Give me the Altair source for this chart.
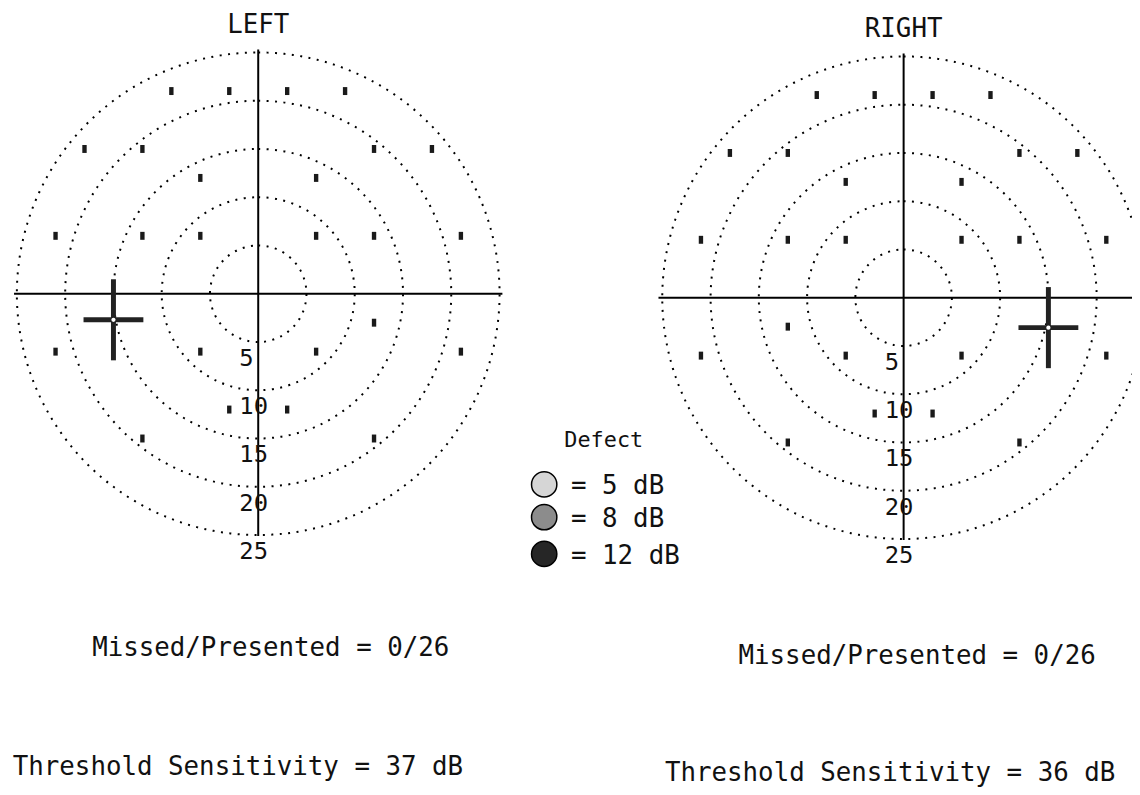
import math
import altair as alt
import pandas as pd

# ---------------- data (degrees of visual field) ----------------
left_px = [-9, -3, 3, 9, -18, -12, 12, 18, -6, 6, -21, -12, -6, 6, 12, 21, 12, -21, -6, 6, 21, -3, 3, -12, 12]
left_py = [21, 21, 21, 21, 15, 15, 15, 15, 12, 12, 6, 6, 6, 6, 6, 6, -3, -6, -6, -6, -6, -12, -12, -15, -15]
right_px = [-9, -3, 3, 9, -18, -12, 12, 18, -6, 6, -21, -12, -6, 6, 12, 21, -12, -21, -6, 6, 21, -3, 3, -12, 12]
right_py = [21, 21, 21, 21, 15, 15, 15, 15, 12, 12, 6, 6, 6, 6, 6, 6, -3, -6, -6, -6, -6, -12, -12, -15, -15]

left_blind = (-15, -2.7)
right_blind = (15, -3.1)

ring_r = [5, 10, 15, 20, 25]
ring_labels = ["5", "10", "15", "20", "25"]

legend_labels = ["= 5 dB", "= 8 dB", "= 12 dB"]
legend_fills = ["#d6d6d6", "#8c8c8c", "#262626"]

titles = ["LEFT", "RIGHT"]
missed = ["Missed/Presented = 0/26", "Missed/Presented = 0/26"]
threshold = ["Threshold Sensitivity = 37 dB", "Threshold Sensitivity = 36 dB"]

# ---------------- layout ----------------
W, H = 1132, 779
K = 9.72  # pixels per degree
FONT = "DejaVu Sans Mono"
INK = "#111111"
BAR = "M-0.55,-1L0.55,-1L0.55,1L-0.55,1Z"


def panel(cx, cy, pxs, pys, blind, title, miss_txt, miss_pos, thr_txt, thr_pos, h_ext, legend=False):
    xsc = alt.Scale(domain=[-cx / K, (W - cx) / K], nice=False, zero=False)
    ysc = alt.Scale(domain=[-(H - cy) / K, cy / K], nice=False, zero=False)

    def X(f):
        return alt.X(f, type="quantitative", scale=xsc, axis=None)

    def Y(f):
        return alt.Y(f, type="quantitative", scale=ysc, axis=None)

    rings_df = pd.DataFrame({"cx": [0] * len(ring_r), "cy": [0] * len(ring_r), "r": ring_r})
    rings = alt.Chart(rings_df).mark_arc(
        theta=0, theta2=6.2832, filled=False, color="black",
        strokeWidth=2, strokeDash=[2, 6.5]
    ).encode(
        x=X("cx"), y=Y("cy"),
        radius=alt.Radius("r:Q", stack=False,
                          scale=alt.Scale(type="linear", domain=[0, 25], range=[0, 25 * K])),
    )

    axes_df = pd.DataFrame({
        "x": [h_ext[0], 0], "x2": [h_ext[1], 0],
        "y": [0, -25.1], "y2": [0, 25.3],
    })
    axes = alt.Chart(axes_df).mark_rule(color="black", strokeWidth=2).encode(
        x=X("x"), x2="x2", y=Y("y"), y2="y2"
    )

    pts_df = pd.DataFrame({"x": pxs, "y": pys})
    pts = alt.Chart(pts_df).mark_point(
        shape=BAR, filled=True, size=64, color="#1a1a1a", opacity=1
    ).encode(x=X("x"), y=Y("y"))

    bx, by = blind
    cross_df = pd.DataFrame({
        "x": [bx - 3.1, bx], "x2": [bx + 3.1, bx],
        "y": [by, by - 4.2], "y2": [by, by + 4.2],
    })
    cross = alt.Chart(cross_df).mark_rule(color="#222222", strokeWidth=5).encode(
        x=X("x"), x2="x2", y=Y("y"), y2="y2"
    )
    centre = alt.Chart(pd.DataFrame({"x": [bx], "y": [by]})).mark_point(
        filled=True, color="white", size=18, opacity=1
    ).encode(x=X("x"), y=Y("y"))

    lab_df = pd.DataFrame({"x": [0] * len(ring_r), "y": [-r for r in ring_r], "t": ring_labels})
    labs = alt.Chart(lab_df).mark_text(
        align="left", baseline="top", dx=-19, dy=5, font=FONT, fontSize=24, color=INK
    ).encode(x=X("x"), y=Y("y"), text="t:N")

    head = alt.Chart(pd.DataFrame({"x": [0], "y": [27.85], "t": [title]})).mark_text(
        align="center", baseline="middle", font=FONT, fontSize=26, color=INK
    ).encode(x=X("x"), y=Y("y"), text="t:N")

    foot_df = pd.DataFrame({
        "x": [miss_pos[0], thr_pos[0]], "y": [miss_pos[1], thr_pos[1]], "t": [miss_txt, thr_txt]
    })
    foot = alt.Chart(foot_df).mark_text(
        align="center", baseline="middle", font=FONT, fontSize=26, color=INK
    ).encode(x=X("x"), y=Y("y"), text="t:N")

    layers = [rings, axes, pts, cross, centre, labs, head, foot]

    if legend:
        lx = (540 - cx) / K
        ly = [(cy - 477) / K, (cy - 510) / K, (cy - 547) / K]
        tx = (567 - cx) / K
        leg_df = pd.DataFrame({"x": [lx] * 3, "y": ly, "tx": [tx] * 3,
                               "ty": [v - 0.2 for v in ly], "t": legend_labels, "f": legend_fills})
        sym = alt.Chart(leg_df).mark_point(
            shape="circle", filled=True, size=650, stroke="black", strokeWidth=1.5, opacity=1
        ).encode(x=X("x"), y=Y("y"), fill=alt.Fill("f:N", scale=None))
        txt = alt.Chart(leg_df).mark_text(
            align="left", baseline="middle", font=FONT, fontSize=26, color=INK
        ).encode(x=X("tx"), y=Y("ty"), text="t:N")
        dhead = alt.Chart(pd.DataFrame({"x": [(600 - cx) / K], "y": [(cy - 432) / K], "t": ["Defect"]})).mark_text(
            align="center", baseline="middle", font=FONT, fontSize=22, color=INK
        ).encode(x=X("x"), y=Y("y"), text="t:N")
        layers += [sym, txt, dhead]

    return alt.layer(*layers)


# page-pixel centres minus the 8px page margin
Lcx, Lcy = 260 - 8, 293 - 8
Rcx, Rcy = 910 - 8, 297 - 8

left = panel(
    Lcx, Lcy, left_px, left_py, left_blind, titles[0],
    missed[0], (1.3, -36.7), threshold[0], (-2.1, -49.0), (-25.3, 25.3), legend=True
)
right = panel(
    Rcx, Rcy, right_px, right_py, right_blind, titles[1],
    missed[1], (1.4, -37.1), threshold[1], (-1.4, -49.3), (-25.4, 26.0)
)

chart = alt.layer(left, right).resolve_scale(
    x="independent", y="independent"
).properties(
    width=W, height=H, padding=0,
    autosize=alt.AutoSizeParams(type="none"),
    background="white",
).configure_view(stroke=None)

chart.save("out.html", embed_options={"renderer": "svg", "actions": False})
